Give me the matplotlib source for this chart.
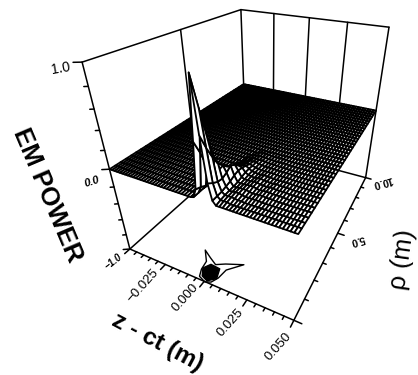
import numpy as np
import matplotlib
matplotlib.use("Agg")
import matplotlib.pyplot as plt
from mpl_toolkits.mplot3d.art3d import Poly3DCollection, Line3DCollection

plt.rcParams['font.family'] = ['Liberation Sans', 'DejaVu Sans']

# ---- data ----
x_grid = [-0.05 + 0.1 * i / 60 for i in range(61)]
y_grid = [10.0 * j / 36 for j in range(37)]
patch_first_x = 28
power_rows = [
 [0,0,.01,.10,.55,1.09,.62,.20,.04,0,0,0,0,0,0,0,0,0,0,0,0,0,0,0,0,0],
 [0,0,.01,.08,.42,.80,.48,.16,.04,.01,.01,.01,0,0,0,0,0,0,0,0,0,0,0,0,0,0],
 [0,0,.01,.05,.26,.52,.36,.13,.04,.015,.015,.015,.01,.005,.005,0,0,0,0,0,0,0,0,0,0,0],
 [0,0,0,.03,.14,.30,.26,.12,.05,.015,.015,.02,.02,.01,.005,.005,.005,.005,.005,0,0,0,0,0,0,0],
 [0,0,0,.02,.08,.16,.20,.14,.06,.015,.015,.02,.02,.02,.01,.005,.005,.01,.01,.005,.005,.005,0,0,0,0],
 [0,0,0,.01,.05,.10,.15,.17,.08,.02,.015,.015,.02,.02,.02,.01,.005,.01,.01,.01,.005,.005,.005,.005,0,0],
 [0,0,0,.01,.03,.06,.10,.14,.09,.03,.015,.015,.015,.02,.02,.01,.01,.005,.01,.01,.005,.005,.005,.005,0,0],
 [0,0,0,0,.02,.04,.07,.09,.08,.04,.02,.015,.01,.015,.02,.01,.01,.005,.005,.01,.005,.005,.005,.005,0,0],
 [0,0,0,0,.01,.03,.04,.06,.06,.04,.02,.015,.01,.01,.015,.01,.01,.005,.005,.005,.005,.005,.005,0,0,0],
 [0,0,0,0,.01,.02,.03,.04,.04,.03,.02,.015,.01,.01,.01,.01,.01,.005,.005,.005,.005,.005,0,0,0,0],
 [0,0,0,0,0,.01,.02,.03,.03,.03,.02,.015,.01,.01,.01,.01,.005,.005,.005,.005,.005,0,0,0,0,0],
 [0,0,0,0,0,.01,.01,.02,.02,.02,.02,.015,.01,.01,.01,.005,.005,.005,.005,0,0,0,0,0,0,0],
 [0,0,0,0,0,0,.01,.01,.015,.015,.015,.01,.01,.005,.005,.005,.005,.005,0,0,0,0,0,0,0,0],
 [0,0,0,0,0,0,0,.01,.01,.01,.01,.005,.005,.005,.005,.005,.005,0,0,0,0,0,0,0,0,0],
]
contour_outer_x = [0,-.0045,-.0064,-.0072,-.0126,-.0068,-.0015,.0031,.0121,.0056,.0048,.003]
contour_outer_y = [0,.134,.475,.911,1.42,1.154,.932,1.146,1.452,.883,.396,.102]
contour_inner_x = [-.0034,-.0062,-.0038,.0021,.0043,.0006]
contour_inner_y = [.20,.55,.86,.82,.34,.08]
x_major = [-0.025, 0.0, 0.025, 0.05]
x_labels = ['−0.025', '0.000', '0.025', '0.050']
y_labels = ['5.0', '10.0']
z_labels = ['1.0', '0.0', '−1.0']
xlo, xhi, ylo, yhi, zlo, zhi = -0.05, 0.05, 0.0, 10.0, -1.0, 1.0

# ---- camera: fitted to the box corners of the reference (pixels) ----
world = np.array([(-.05,0,1),(-.05,0,0),(-.05,0,-1),(.05,0,-1),(.05,0,0),
                  (.05,10,-1),(.05,10,0),(.05,10,1),(-.05,10,1),(-.05,10,0)], float)
pix = np.array([(82,61),(110,172),(129,247),(293,320),(300,235),
                (367,178),(375,110),(388,27),(242,9),(243,85)], float)
A, b = [], []
for (X, Y, Z), (u, v) in zip(world, pix):
    A.append([X,Y,Z,1,0,0,0,0,-u*X,-u*Y,-u*Z]); b.append(u)
    A.append([0,0,0,0,X,Y,Z,1,-v*X,-v*Y,-v*Z]); b.append(v)
p = np.linalg.lstsq(np.array(A), np.array(b), rcond=None)[0]
P = np.array([[*p[:4]], [*p[4:8]], [0, 0, 0, -1], [*p[8:11], 1]])

fig = plt.figure(figsize=(4.18, 3.75), dpi=100)
ax = fig.add_axes([0, 0, 1, 1], projection='3d', computed_zorder=False)
ax.set_axis_off()
ax.get_proj = lambda: P
ax.apply_aspect = lambda position=None: None

X, Y = np.meshgrid(x_grid, y_grid)
Z = np.zeros_like(X)
for j, row in enumerate(power_rows):
    Z[j, patch_first_x:patch_first_x + len(row)] = row

LW = 1.1
def segments(segs, zorder):
    ax.add_collection3d(Line3DCollection(segs, colors='k', linewidths=LW, zorder=zorder,
                                         capstyle='round'))

# back walls and floor, behind the surface
back = [((xlo,yhi,zhi),(xhi,yhi,zhi)), ((xlo,ylo,zhi),(xlo,yhi,zhi)),
        ((xlo,yhi,zlo),(xlo,yhi,zhi)), ((xhi,yhi,zlo),(xhi,yhi,zhi)),
        ((xlo,ylo,zlo),(xlo,yhi,zlo)), ((xlo,yhi,zlo),(xhi,yhi,zlo)),
        ((xlo,5,zlo),(xlo,5,zhi))]
back += [((xv,yhi,zlo),(xv,yhi,zhi)) for xv in x_major[:3]]
segments(back, 1)

# floor contour
ax.add_collection3d(Poly3DCollection(
    [list(zip(contour_outer_x, contour_outer_y, [zlo]*len(contour_outer_x)))],
    facecolor='white', edgecolor='k', linewidths=1.0, zorder=1))
ax.add_collection3d(Poly3DCollection(
    [list(zip(contour_inner_x, contour_inner_y, [zlo]*len(contour_inner_x)))],
    facecolor='k', edgecolor='k', linewidths=1.0, zorder=1.5))

ax.plot_surface(X, Y, Z, rstride=1, cstride=1, color='white', edgecolor='k',
                linewidth=1.3, shade=False, zorder=2)

# axes in front
front = [((xlo,ylo,zlo),(xlo,ylo,zhi)), ((xlo,ylo,zlo),(xhi,ylo,zlo)),
         ((xhi,ylo,zlo),(xhi,yhi,zlo))]
for i in range(11):
    zv = -1 + 0.2 * i
    m = i % 5 == 0
    front.append(((xlo,ylo,zv),(xlo-(.003 if m else .0015),ylo-(.15 if m else .08),zv)))
for i in range(21):
    xv = xlo + 0.005 * i
    front.append(((xv,ylo,zlo),(xv,ylo-(.3 if i % 5 == 0 else .15),zlo)))
for i in range(11):
    yv = float(i)
    front.append(((xhi,yv,zlo),(xhi+(.004 if i % 5 == 0 else .002),yv,zlo)))
segments(front, 3)

ax.viewLim.intervalx = (0, 418)
ax.viewLim.intervaly = (375, 0)

def label(px, py, s, rot, size, **kw):
    ax.text2D(px/418, 1-py/375, s, transform=ax.transAxes, rotation=rot, fontsize=size,
              ha='center', va='center', rotation_mode='anchor', **kw)

label(61, 68, z_labels[0], 10, 10)
label(92, 182, z_labels[1], 18, 8, fontweight='bold', fontstyle='italic')
label(113, 262, z_labels[2], 38, 7, fontweight='bold', fontstyle='italic')
for (px, py), s in zip([(143,286),(185,298),(230,323),(278,347)], x_labels):
    label(px, py, s, 48, 9.5)
label(357, 240, y_labels[0], 195, 7.5, fontweight='bold')
label(382, 182, y_labels[1], 195, 7.5, fontweight='bold')
label(402, 259, 'ρ (m)', 82, 18.5)
label(157, 342, 'z - ct (m)', -28, 17.5, fontweight='bold')
label(47, 195, 'EM POWER', -67, 18.5, fontweight='bold')

fig.savefig('out.png', dpi=100)
